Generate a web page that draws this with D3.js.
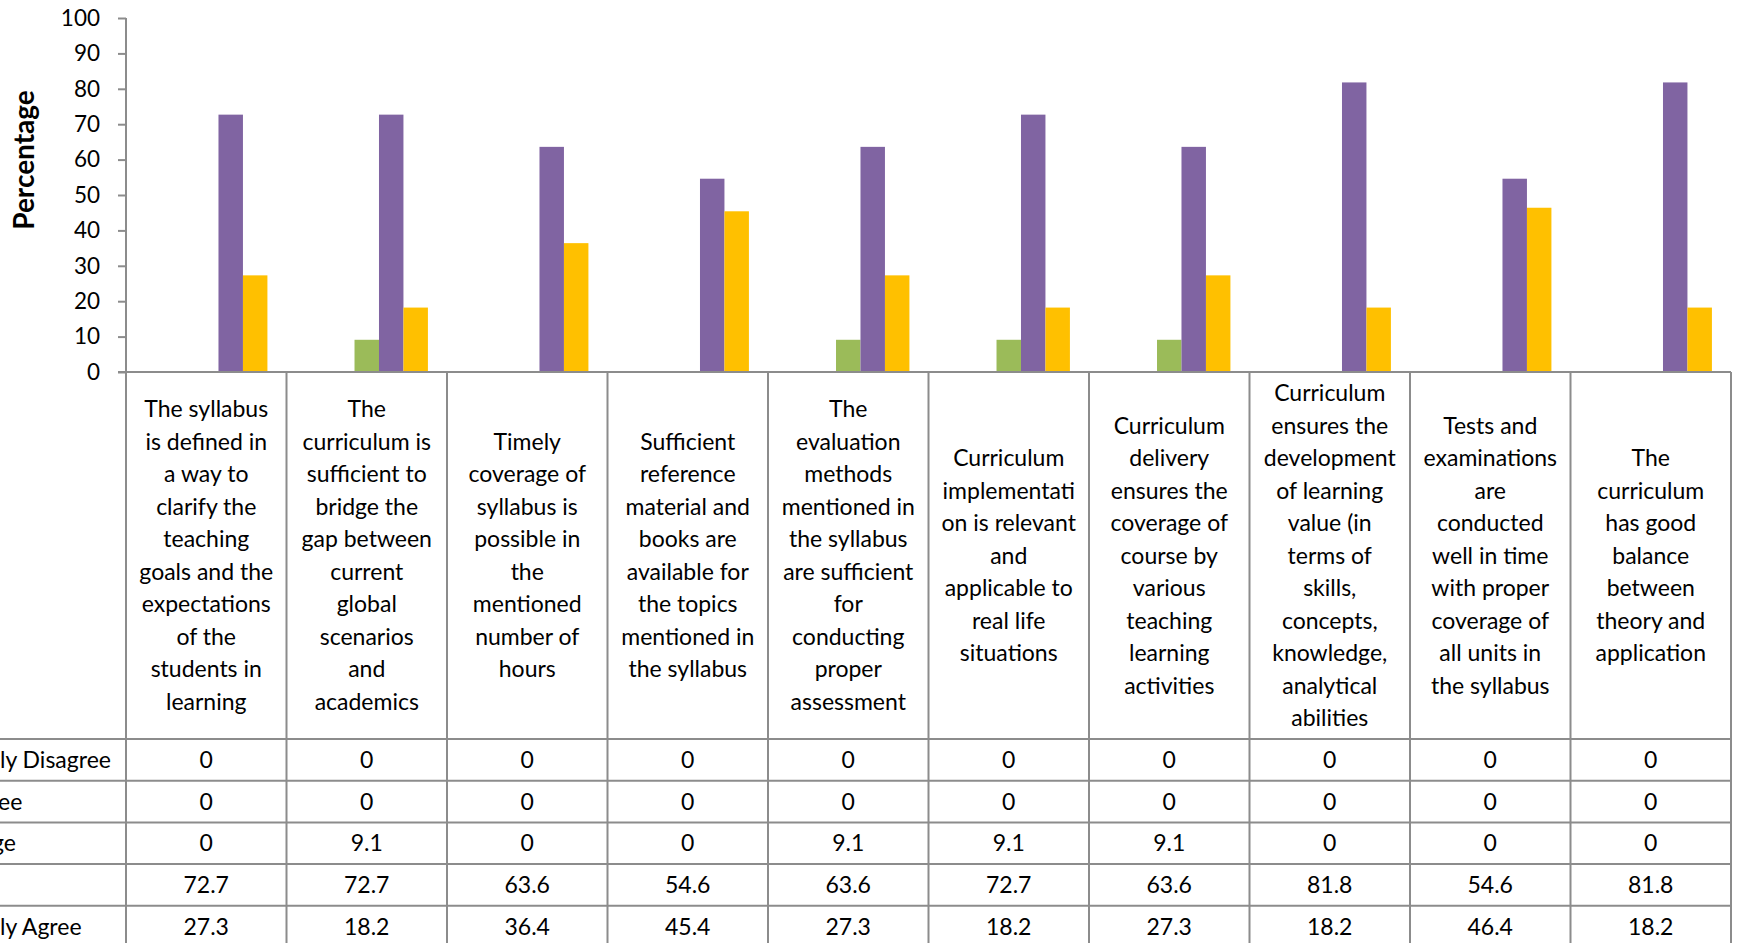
<!DOCTYPE html>
<html>
  <head>
    <script src="https://d3js.org/d3.v7.min.js"></script>
    <style type="text/css">
  body { margin: 0; background: #fff; overflow: hidden; }
  svg { display: block; font-family: Lato, "Noto Sans", sans-serif; }
  .cat text, .val text, .rowlab text { fill: #000; }
    </style>
  </head>
  <body>
  <div id="container"></div>
  <script type="text/javascript">

  // survey items, wrapped as in the original table header
  var categories = [
    ["The syllabus", "is defined in", "a way to", "clarify the", "teaching", "goals and the", "expectations", "of the", "students in", "learning"],
    ["The", "curriculum is", "sufficient to", "bridge the", "gap between", "current", "global", "scenarios", "and", "academics"],
    ["Timely", "coverage of", "syllabus is", "possible in", "the", "mentioned", "number of", "hours"],
    ["Sufficient", "reference", "material and", "books are", "available for", "the topics", "mentioned in", "the syllabus"],
    ["The", "evaluation", "methods", "mentioned in", "the syllabus", "are sufficient", "for", "conducting", "proper", "assessment"],
    ["Curriculum", "implementati", "on is relevant", "and", "applicable to", "real life", "situations"],
    ["Curriculum", "delivery", "ensures the", "coverage of", "course by", "various", "teaching", "learning", "activities"],
    ["Curriculum", "ensures the", "development", "of learning", "value (in", "terms of", "skills,", "concepts,", "knowledge,", "analytical", "abilities"],
    ["Tests and", "examinations", "are", "conducted", "well in time", "with proper", "coverage of", "all units in", "the syllabus"],
    ["The", "curriculum", "has good", "balance", "between", "theory and", "application"]
  ];

  var seriesNames = ["Strongly Disagree", "Disagree", "Average", "Agree", "Strongly Agree"];
  var stronglyDisagree = [0, 0, 0, 0, 0, 0, 0, 0, 0, 0];
  var disagree         = [0, 0, 0, 0, 0, 0, 0, 0, 0, 0];
  var average          = [0, 9.1, 0, 0, 9.1, 9.1, 9.1, 0, 0, 0];
  var agree            = [72.7, 72.7, 63.6, 54.6, 63.6, 72.7, 63.6, 81.8, 54.6, 81.8];
  var stronglyAgree    = [27.3, 18.2, 36.4, 45.4, 27.3, 18.2, 27.3, 18.2, 46.4, 18.2];
  var yTicks = [0, 10, 20, 30, 40, 50, 60, 70, 80, 90, 100];

  var values = [stronglyDisagree, disagree, average, agree, stronglyAgree];
  var colors = ["#4f81bd", "#c0504d", "#9bbb59", "#8064a2", "#ffc000"];

  var W = 1737, H = 943;
  var plotLeft = 126, plotRight = 1731, plotTop = 18, base = 372;
  var headBottom = 739, rowH = 41.7;
  var lineH = 32.5;
  var fs = 23;
  var grid = "#8c8c8c";

  var svg = d3.select("#container").append("svg")
    .attr("width", W)
    .attr("height", H);

  var idx = d3.range(categories.length);

  var x0 = d3.scaleBand().domain(idx).range([plotLeft, plotRight]);
  var x1 = d3.scaleBand().domain(d3.range(seriesNames.length))
    .range([0, x0.bandwidth()]).paddingOuter(0.78);
  var y = d3.scaleLinear().domain([0, 100]).range([base, plotTop]);

  // bars
  var groups = svg.append("g").selectAll("g")
    .data(idx)
    .enter().append("g")
      .attr("transform", function(i) { return "translate(" + x0(i) + ",0)"; });

  groups.selectAll("rect")
    .data(function(i) { return values.map(function(s, k) { return {k: k, v: s[i]}; }); })
    .enter().append("rect")
      .filter(function(d) { return d.v > 0; })
      .attr("x", function(d) { return x1(d.k); })
      .attr("width", x1.bandwidth())
      .attr("y", function(d) { return y(d.v); })
      .attr("height", function(d) { return base - y(d.v); })
      .attr("fill", function(d) { return colors[d.k]; });

  // y axis
  var yAxis = svg.append("g")
    .attr("transform", "translate(" + plotLeft + ",0)")
    .call(d3.axisLeft(y).tickValues(yTicks).tickSize(8).tickPadding(18));
  yAxis.select(".domain").attr("stroke", grid).attr("stroke-width", 2).attr("d", "M0," + plotTop + "V" + base);
  yAxis.selectAll(".tick line").attr("stroke", grid).attr("stroke-width", 2);
  yAxis.selectAll(".tick text")
    .attr("font-family", "Lato, sans-serif")
    .attr("font-size", 22.5)
    .attr("fill", "#000");

  svg.append("text")
    .attr("transform", "translate(34," + 160 + ") rotate(-90)")
    .attr("text-anchor", "middle")
    .attr("font-size", 28)
    .attr("font-weight", "bold")
    .text("Percentage");

  // data table
  var tbl = svg.append("g");
  var rowTop = function(r) { return headBottom + r * rowH; };

  // horizontal rules
  tbl.append("line")
    .attr("x1", plotLeft - 8).attr("x2", plotRight)
    .attr("y1", base).attr("y2", base)
    .attr("stroke", grid).attr("stroke-width", 2);
  d3.range(seriesNames.length + 1).forEach(function(r) {
    tbl.append("line")
      .attr("x1", 0).attr("x2", plotRight)
      .attr("y1", rowTop(r)).attr("y2", rowTop(r))
      .attr("stroke", grid).attr("stroke-width", 2);
  });
  // vertical rules
  idx.concat([categories.length]).forEach(function(i) {
    var xx = i < categories.length ? x0(i) : plotRight;
    tbl.append("line")
      .attr("x1", xx).attr("x2", xx)
      .attr("y1", base).attr("y2", H)
      .attr("stroke", grid).attr("stroke-width", 2);
  });

  // header labels
  var cat = tbl.append("g").attr("class", "cat");
  idx.forEach(function(i) {
    var lines = categories[i];
    var mid = (base + headBottom) / 2;
    var y0 = mid - (lines.length - 1) * lineH / 2;
    var t = cat.append("text")
      .attr("text-anchor", "middle")
      .attr("font-size", fs);
    lines.forEach(function(l, j) {
      t.append("tspan")
        .attr("x", x0(i) + x0.bandwidth() / 2)
        .attr("y", y0 + j * lineH)
        .attr("dy", "0.35em")
        .text(l);
    });
  });

  // values
  var val = tbl.append("g").attr("class", "val");
  values.forEach(function(s, r) {
    s.forEach(function(v, i) {
      val.append("text")
        .attr("x", x0(i) + x0.bandwidth() / 2)
        .attr("y", rowTop(r) + rowH / 2)
        .attr("dy", "0.35em")
        .attr("text-anchor", "middle")
        .attr("font-size", fs)
        .text(v);
    });
  });

  // row labels, left aligned (legend keys fall off the left edge)
  var rl = tbl.append("g").attr("class", "rowlab");
  var probe = rl.append("text").attr("font-size", fs).text("Strong");
  var startX = 0 - probe.node().getComputedTextLength();
  probe.remove();
  seriesNames.forEach(function(n, r) {
    rl.append("text")
      .attr("x", startX)
      .attr("y", rowTop(r) + rowH / 2)
      .attr("dy", "0.35em")
      .attr("font-size", fs)
      .text(n);
  });

  </script>
  </body>
</html>
